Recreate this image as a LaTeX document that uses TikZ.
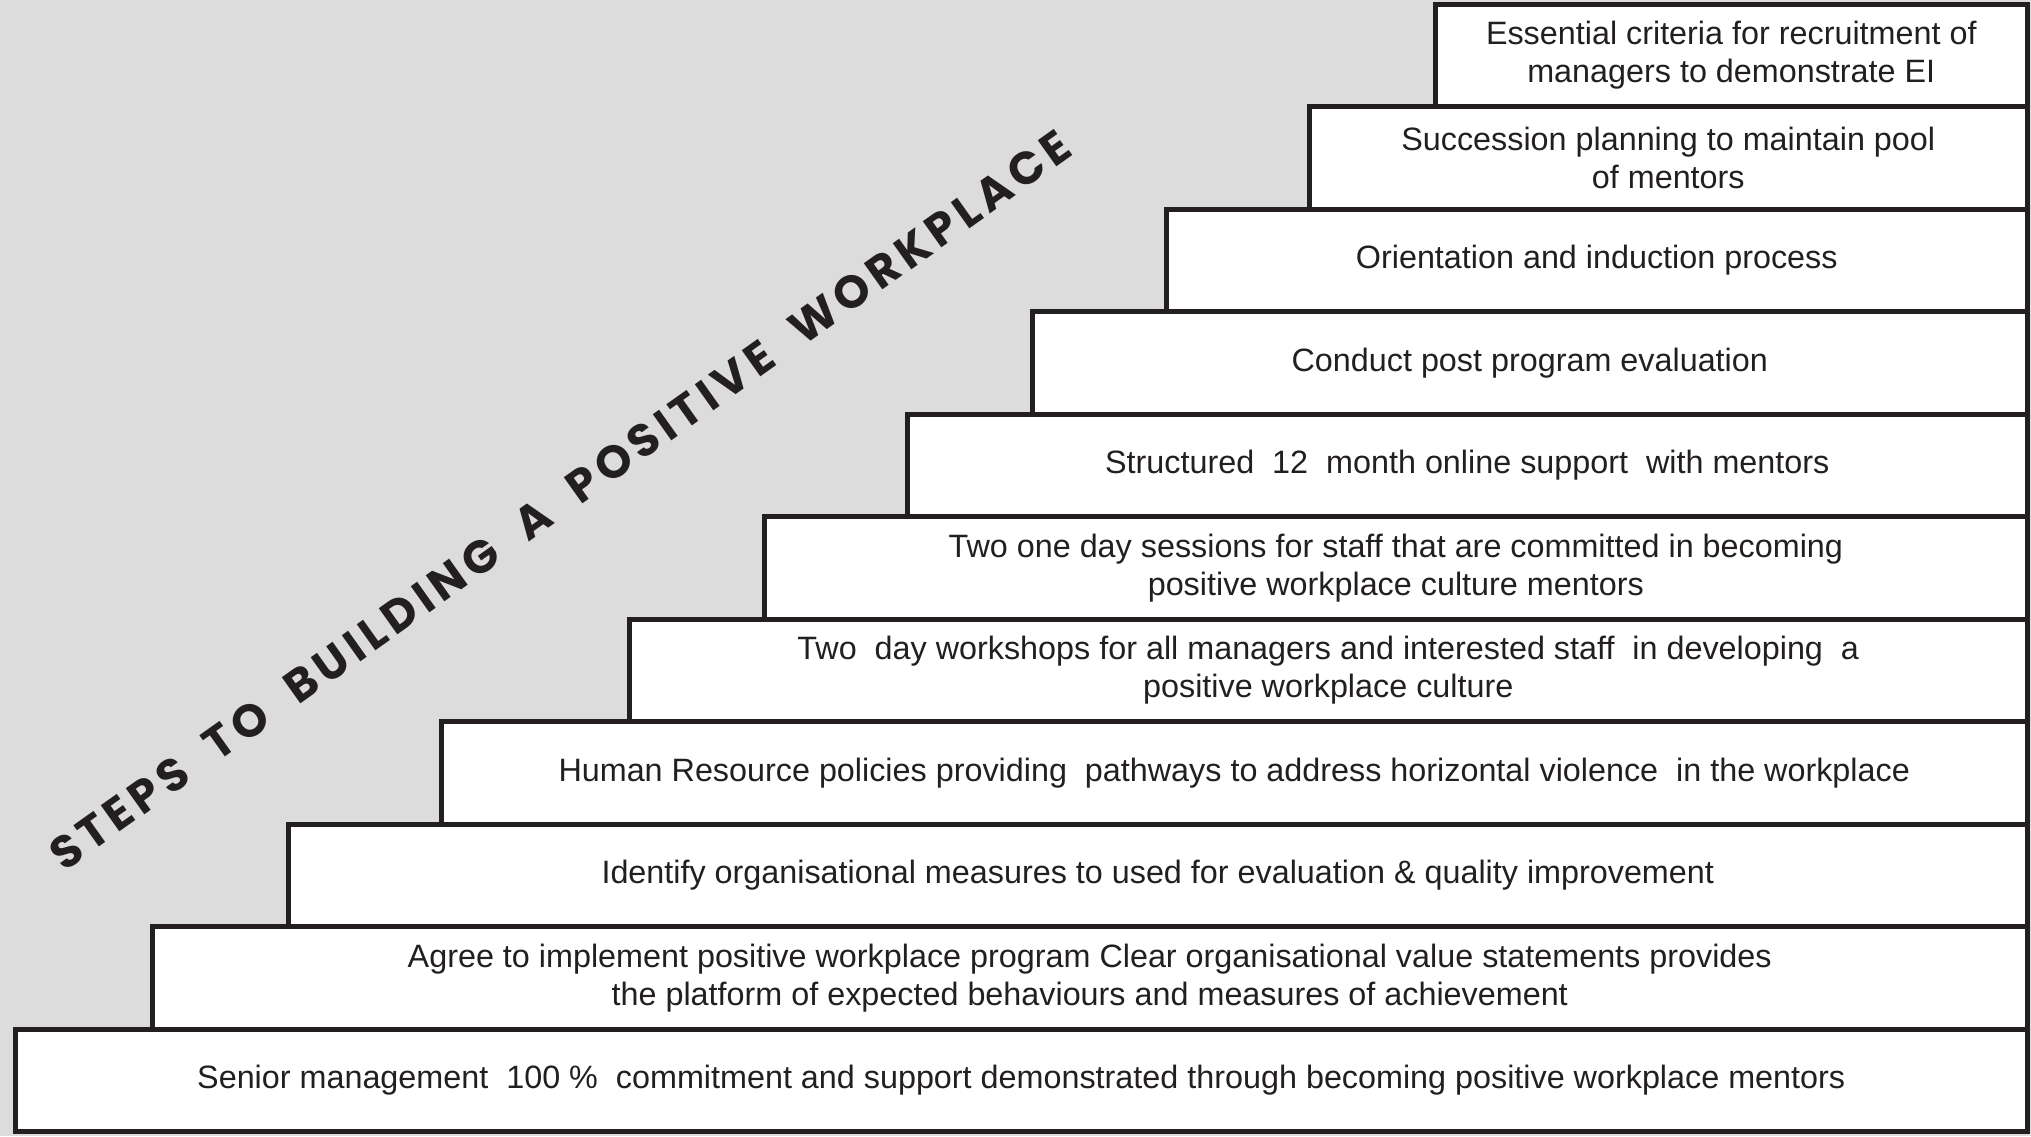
\documentclass[tikz,border=0pt]{standalone}
\usepackage{fontspec}
\setmainfont{Liberation Sans}
\newfontfamily\titlefont[LetterSpace=12,WordSpace=2]{Poppins}
\usepackage{xcolor}
\usepackage{tikz}

\definecolor{waterbg}{HTML}{DCDCDC}
\definecolor{steptext}{HTML}{231F20}

\tikzset{
  stepbox/.style={draw=steptext, line width=1.3pt, fill=white, anchor=south west,
    minimum height=1.025cm, inner sep=0pt, align=center, text=steptext,
    font=\fontsize{9.2}{10.9}\selectfont},
  steptitle/.style={rotate=35.4, text=steptext, font=\titlefont\bfseries\fontsize{13}{15}\selectfont}
}

\begin{document}
\begin{tikzpicture}
            \fill [waterbg] (0,0) rectangle (20.31,11.36);
            \useasboundingbox (0,0) rectangle (20.31,11.36);

            \node [style=steptitle] (T) at (5.60,6.36) {STEPS TO BUILDING A POSITIVE WORKPLACE};

            \node [style=stepbox, minimum width=20.12cm] (S1) at (0.13,0.02) {Senior management~ 100 \%~ commitment and support demonstrated through becoming positive workplace mentors};
            \node [style=stepbox, minimum width=18.75cm] (S2) at (1.50,1.045) {Agree to implement positive workplace program Clear organisational value statements provides\\the platform of expected behaviours and measures of achievement};
            \node [style=stepbox, minimum width=17.39cm] (S3) at (2.86,2.07) {Identify organisational measures to used for evaluation \& quality improvement};
            \node [style=stepbox, minimum width=15.86cm] (S4) at (4.39,3.095) {Human Resource policies providing~ pathways to address horizontal violence~ in the workplace};
            \node [style=stepbox, minimum width=13.98cm] (S5) at (6.27,4.12) {Two~ day workshops for all managers and interested staff~ in developing~ a\\positive workplace culture};
            \node [style=stepbox, minimum width=12.63cm] (S6) at (7.62,5.145) {Two one day sessions for staff that are committed in becoming\\positive workplace culture mentors};
            \node [style=stepbox, minimum width=11.20cm] (S7) at (9.05,6.17) {Structured~ 12~ month online support~ with mentors};
            \node [style=stepbox, minimum width=9.95cm] (S8) at (10.30,7.195) {Conduct post program evaluation};
            \node [style=stepbox, minimum width=8.61cm] (S9) at (11.64,8.22) {Orientation and induction process};
            \node [style=stepbox, minimum width=7.18cm] (S10) at (13.07,9.245) {Succession planning to maintain pool\\of mentors};
            \node [style=stepbox, minimum width=5.92cm] (S11) at (14.33,10.27) {Essential criteria for recruitment of\\managers to demonstrate EI};

        \end{tikzpicture}
\end{document}
